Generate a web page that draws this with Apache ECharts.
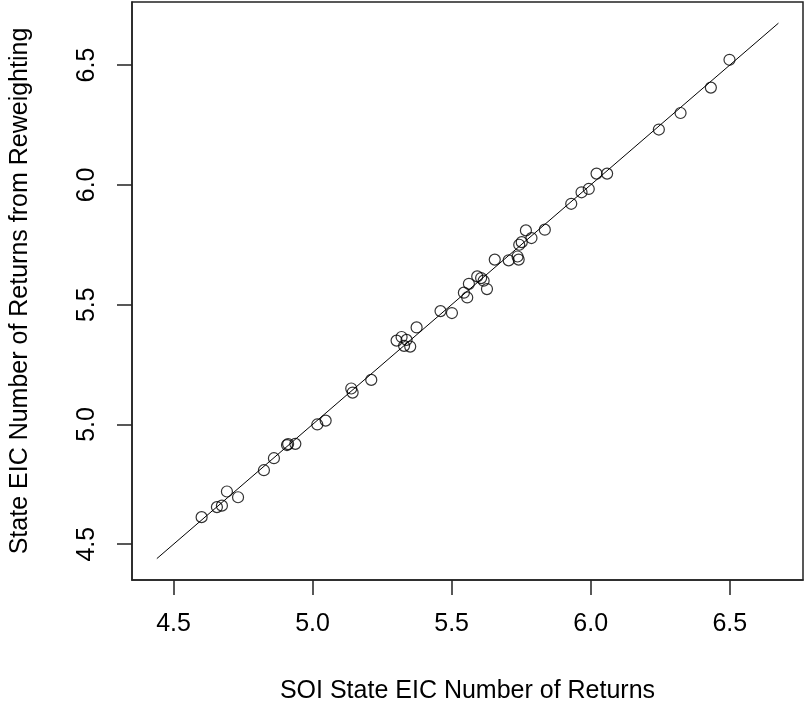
<!DOCTYPE html>
<html><head><meta charset="utf-8">
<script src="https://cdn.jsdelivr.net/npm/echarts@6/dist/echarts.min.js"></script>
<style>html,body{margin:0;padding:0;background:#fff}#c{width:805px;height:712px}</style>
</head><body><div id="c"></div>
<script>
// SOI state EIC number of returns (log10), x values
const soiValues = [
  4.601, 4.656, 4.674, 4.692, 4.732, 4.825, 4.861, 4.908, 4.912, 4.938,
  5.017, 5.047, 5.139, 5.144, 5.211, 5.302, 5.320, 5.338, 5.329, 5.351,
  5.374, 5.460, 5.501, 5.544, 5.556, 5.562, 5.592, 5.606, 5.615, 5.627,
  5.655, 5.705, 5.737, 5.741, 5.743, 5.752, 5.767, 5.787, 5.835, 5.930,
  5.967, 5.993, 6.021, 6.059, 6.245, 6.323, 6.432, 6.499
];
// Reweighted state EIC number of returns (log10), y values
const reweightValues = [
  4.613, 4.655, 4.661, 4.720, 4.696, 4.809, 4.859, 4.914, 4.918, 4.919,
  5.000, 5.016, 5.150, 5.133, 5.186, 5.350, 5.365, 5.353, 5.328, 5.325,
  5.405, 5.473, 5.465, 5.550, 5.530, 5.587, 5.618, 5.611, 5.600, 5.565,
  5.688, 5.685, 5.701, 5.688, 5.750, 5.761, 5.810, 5.778, 5.813, 5.921,
  5.969, 5.983, 6.047, 6.047, 6.231, 6.300, 6.406, 6.522
];
// 45-degree reference line endpoints
const refLineEnds = [4.44, 6.675];
const tickValues = [4.5, 5.0, 5.5, 6.0, 6.5];
const axisRange = [4.3507, 6.7633];
const xTitle = 'SOI State EIC Number of Returns';
const yTitle = 'State EIC Number of Returns from Reweighting';

const font = "'Liberation Sans', Arial, sans-serif";
const points = soiValues.map((x, i) => [x, reweightValues[i]]);
const linePts = refLineEnds.map(v => [v, v]);

function axisCfg(isY) {
  return {
    type: 'value',
    min: axisRange[0], max: axisRange[1],
    name: isY ? yTitle : xTitle,
    nameLocation: 'middle',
    nameGap: isY ? 99 : 99,
    nameTextStyle: { fontFamily: font, fontSize: 25, color: '#000' },
    axisLine: { show: true, lineStyle: { color: '#222', width: 1.5 } },
    axisTick: { show: true, length: 15, inside: false, customValues: tickValues,
                lineStyle: { color: '#222', width: 1.5 } },
    axisLabel: { show: true, customValues: tickValues, margin: 32,
                 rotate: isY ? 90 : 0,
                 formatter: v => Number(v).toFixed(1),
                 fontFamily: font, fontSize: 25, color: '#000' },
    splitLine: { show: false }
  };
}

const chart = echarts.init(document.getElementById('c'), null, { renderer: 'canvas' });
chart.setOption({
  animation: false,
  backgroundColor: '#fff',
  grid: { left: 129, right: 2, top: 2, bottom: 132, show: true,
          borderColor: '#222', borderWidth: 1.5, backgroundColor: 'transparent' },
  xAxis: axisCfg(false),
  yAxis: axisCfg(true),
  series: [
    { type: 'line', data: linePts, symbol: 'none', silent: true,
      lineStyle: { color: '#000', width: 1 } },
    { type: 'scatter', data: points, symbol: 'circle', symbolSize: 11, silent: true,
      itemStyle: { color: 'rgba(0,0,0,0)', borderColor: '#000', borderWidth: 1.2 } }
  ]
});
</script>
</body></html>
